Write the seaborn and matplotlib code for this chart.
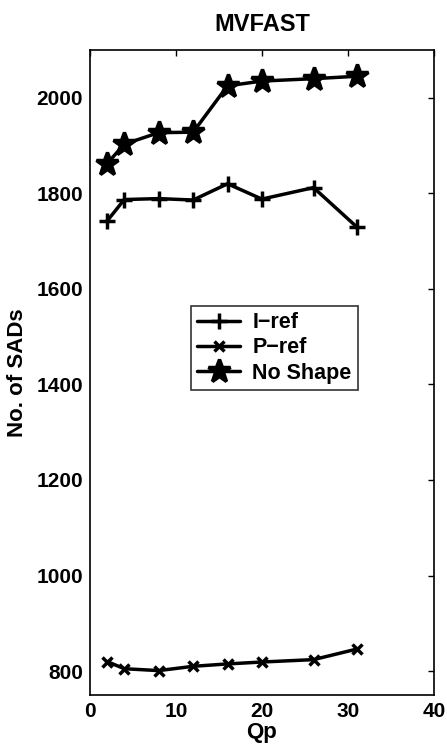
import numpy as np
import pandas as pd
import seaborn as sns
import matplotlib
matplotlib.use("Agg")
import matplotlib.pyplot as plt

# 数据
qp = [2, 4, 8, 12, 16, 20, 26, 31]
i_ref = [1742, 1787, 1789, 1786, 1820, 1788, 1812, 1730]
p_ref = [820, 805, 801, 810, 815, 819, 824, 846]
no_shape = [1862, 1903, 1927, 1928, 2025, 2035, 2040, 2045]

sns.set_style("white")
plt.rcParams['font.family'] = ['Liberation Sans', 'DejaVu Sans']
plt.rcParams['font.weight'] = 'bold'
plt.rcParams['text.color'] = 'black'
plt.rcParams['axes.labelcolor'] = 'black'
plt.rcParams['xtick.color'] = 'black'
plt.rcParams['ytick.color'] = 'black'

fig = plt.figure(figsize=(4.47, 7.51), dpi=100)
ax = fig.add_axes([0.201, 0.0746, 0.770, 0.8588])

series = [("I\u2212ref", i_ref, "+", 11), ("P\u2212ref", p_ref, "x", 7), ("No Shape", no_shape, "*", 17)]
for name, vals, mk, ms in series:
    sns.lineplot(x=qp, y=vals, ax=ax, color="black", linewidth=2.5, marker=mk,
                 markersize=ms, markeredgewidth=2.5, markeredgecolor="black", label=name)

ax.set_xlim(0, 40)
ax.set_ylim(750, 2100)
ax.set_xticks([0, 10, 20, 30, 40])
ax.set_yticks([800, 1000, 1200, 1400, 1600, 1800, 2000])
ax.tick_params(direction="in", top=True, right=True, length=4.5, width=1, labelsize=15, pad=5)
for lbl in ax.get_xticklabels() + ax.get_yticklabels():
    lbl.set_fontweight("bold")
for s in ax.spines.values():
    s.set_color("black")
    s.set_linewidth(1.2)

ax.set_xlabel("Qp", fontsize=16, fontweight="bold", labelpad=1)
ax.set_ylabel("No. of SADs", fontsize=16, fontweight="bold", labelpad=6)
ax.set_title("MVFAST", fontsize=17, fontweight="bold", pad=14)

leg = ax.legend(loc="center", bbox_to_anchor=(0.536, 0.538), frameon=True, fancybox=False,
                edgecolor="black", fontsize=15.5, handlelength=2.0, borderpad=0.3,
                labelspacing=0.2, handletextpad=0.55, borderaxespad=0)
leg.get_frame().set_linewidth(1.2)
for t in leg.get_texts():
    t.set_fontweight("bold")

fig.savefig("out.png", dpi=100)
